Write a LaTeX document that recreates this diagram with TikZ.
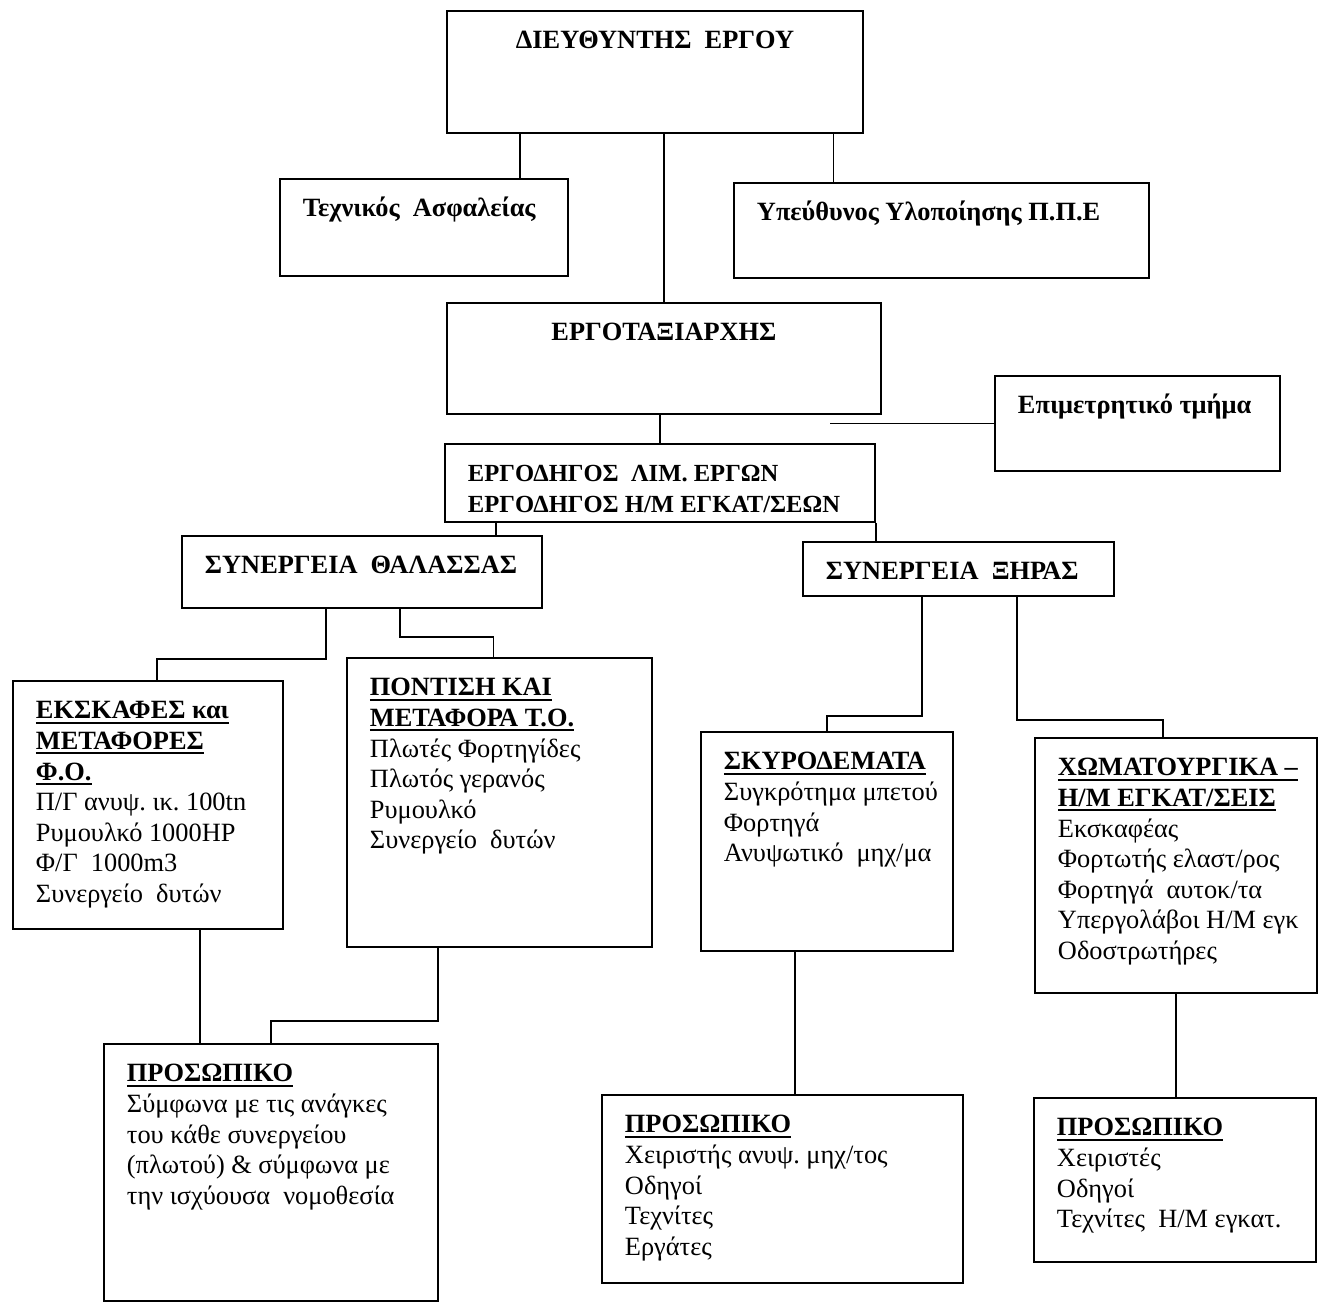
\documentclass[tikz,border=0pt]{standalone}
\usepackage{fontspec}
\setmainfont{Liberation Serif}
\usepackage{tikz}
\newsavebox\headbox
\newcommand{\boxtext}[3]{\parbox[t][#2][t]{#1}{\raggedright\leftskip=0.46cm\strut #3}}
\newcommand{\centtext}[3]{\parbox[t][#2][t]{#1}{\centering\strut #3}}
\newcommand{\head}[1]{\sbox\headbox{\textbf{#1}}\usebox\headbox\llap{\rule[-2.8pt]{\wd\headbox}{1.1pt}}}
\tikzset{
  blk/.style={draw=black,anchor=north west,inner xsep=0pt,inner ysep=0.33cm,font=\fontsize{15}{17.4}\selectfont\frenchspacing}
}

\begin{document}
\begin{tikzpicture}[line width=1.1pt]
\useasboundingbox (0,0) rectangle (26.64,-26.20);
\node[blk] (dir) at (8.92,-0.20) {\centtext{8.32cm}{1.78cm}{\textbf{ΔΙΕΥΘΥΝΤΗΣ\ \ ΕΡΓΟΥ}}};
\node[blk] (tech) at (5.58,-3.56) {\boxtext{5.76cm}{1.28cm}{\textbf{Τεχνικός\ \ Ασφαλείας}}};
\node[blk] (ppe) at (14.66,-3.64) {\boxtext{8.30cm}{1.24cm}{\textbf{Υπεύθυνος Υλοποίησης Π.Π.Ε}}};
\node[blk] (site) at (8.92,-6.04) {\centtext{8.68cm}{1.56cm}{\textbf{ΕΡΓΟΤΑΞΙΑΡΧΗΣ}}};
\node[blk] (meas) at (19.88,-7.50) {\boxtext{5.70cm}{1.24cm}{\textbf{Επιμετρητικό τμήμα}}};
\node[blk,font=\fontsize{14}{17.4}\selectfont\frenchspacing] (fore) at (8.88,-8.86) {\boxtext{8.60cm}{0.90cm}{\textbf{ΕΡΓΟΔΗΓΟΣ\ \ ΛΙΜ. ΕΡΓΩΝ}\\ \textbf{ΕΡΓΟΔΗΓΟΣ Η/Μ ΕΓΚΑΤ/ΣΕΩΝ}}};
\node[blk] (sea) at (3.62,-10.70) {\boxtext{7.20cm}{0.78cm}{\textbf{ΣΥΝΕΡΓΕΙΑ\ \ ΘΑΛΑΣΣΑΣ}}};
\node[blk] (land) at (16.04,-10.82) {\boxtext{6.22cm}{0.30cm}{\textbf{ΣΥΝΕΡΓΕΙΑ\ \ ΞΗΡΑΣ}}};
\node[blk] (dredge) at (0.24,-13.60) {\boxtext{5.40cm}{4.30cm}{\head{ΕΚΣΚΑΦΕΣ και}\\ \head{ΜΕΤΑΦΟΡΕΣ}\\ \head{Φ.Ο.}\\ Π/Γ ανυψ. ικ. 100tn\\ Ρυμουλκό 1000HP\\ Φ/Γ\ \ 1000m3\\ Συνεργείο\ \ δυτών}};
\node[blk] (laying) at (6.92,-13.14) {\boxtext{6.10cm}{5.12cm}{\head{ΠΟΝΤΙΣΗ ΚΑΙ}\\ \head{ΜΕΤΑΦΟΡΑ Τ.Ο.}\\ Πλωτές Φορτηγίδες\\ Πλωτός γερανός\\ Ρυμουλκό\\ Συνεργείο\ \ δυτών}};
\node[blk] (concrete) at (14.00,-14.62) {\boxtext{5.04cm}{3.72cm}{\head{ΣΚΥΡΟΔΕΜΑΤΑ}\\ Συγκρότημα μπετού\\ Φορτηγά\\ Ανυψωτικό\ \ μηχ/μα}};
\node[blk] (earth) at (20.68,-14.74) {\boxtext{5.64cm}{4.44cm}{\head{ΧΩΜΑΤΟΥΡΓΙΚΑ –}\\ \head{Η/Μ ΕΓΚΑΤ/ΣΕΙΣ}\\ Εκσκαφέας\\ Φορτωτής ελαστ/ρος\\ Φορτηγά\ \ αυτοκ/τα\\ Υπεργολάβοι Η/Μ εγκ\\ Οδοστρωτήρες}};
\node[blk] (staffA) at (2.06,-20.86) {\boxtext{6.68cm}{4.48cm}{\head{ΠΡΟΣΩΠΙΚΟ}\\ Σύμφωνα με τις ανάγκες\\ του κάθε συνεργείου\\ (πλωτού) \& σύμφωνα με\\ την ισχύουσα\ \ νομοθεσία}};
\node[blk] (staffB) at (12.02,-21.88) {\boxtext{7.22cm}{3.10cm}{\head{ΠΡΟΣΩΠΙΚΟ}\\ Χειριστής ανυψ. μηχ/τος\\ Οδηγοί\\ Τεχνίτες\\ Εργάτες}};
\node[blk] (staffC) at (20.66,-21.94) {\boxtext{5.64cm}{2.62cm}{\head{ΠΡΟΣΩΠΙΚΟ}\\ Χειριστές\\ Οδηγοί\\ Τεχνίτες\ \ Η/Μ εγκατ.}};

\draw ([xshift=1.92cm]tech.north) -- ([xshift=1.92cm]tech.north |- dir.south);
\draw (site.north) -- (site.north |- dir.south);
\draw ([xshift=-2.16cm]ppe.north) -- ([xshift=-2.16cm]ppe.north |- dir.south);
\draw (fore.north) -- (fore.north |- site.south);
\coordinate (measend) at ([xshift=-3.28cm]meas.west);
\draw (meas.west) -- (measend);
\draw ([xshift=2.68cm]sea.north) -- ([xshift=2.68cm]sea.north |- fore.south);
\draw (fore.south east) -- (fore.south east |- land.north);
\draw ([xshift=-0.72cm]sea.south) -- ++(0,-1.00) -| ([xshift=0.18cm]dredge.north);
\draw ([xshift=0.76cm]sea.south) -- ++(0,-0.56) -| ([xshift=-0.12cm]laying.north);
\draw ([xshift=-0.73cm]land.south) -- ++(0,-2.38) -| (concrete.north);
\draw ([xshift=1.17cm]land.south) -- ++(0,-2.46) -| ([xshift=-0.26cm]earth.north);
\draw ([xshift=1.04cm]dredge.south) -- ([xshift=1.04cm]dredge.south |- staffA.north);
\draw ([xshift=-1.23cm]laying.south) -- ++(0,-1.46) -| (staffA.north);
\draw ([xshift=-0.64cm]concrete.south) -- ([xshift=-0.64cm]concrete.south |- staffB.north);
\draw (earth.south) -- (earth.south |- staffC.north);
\end{tikzpicture}
\end{document}
